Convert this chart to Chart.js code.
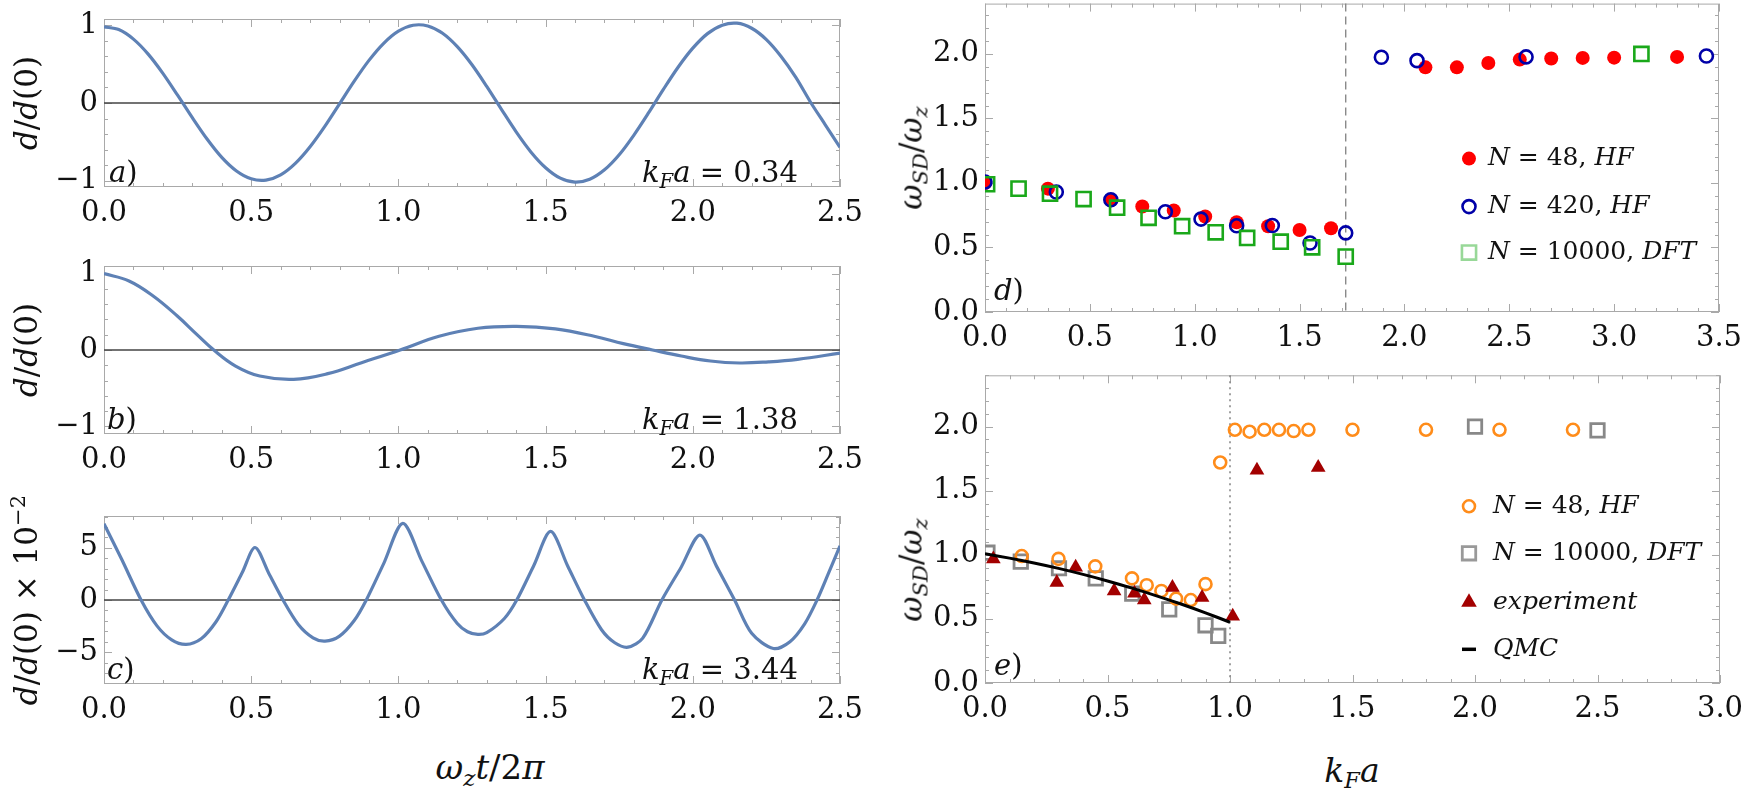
<!DOCTYPE html>
<html>
<head>
<meta charset="utf-8">
<script src="https://cdn.jsdelivr.net/npm/chart.js@4.4.1/dist/chart.umd.min.js"></script>
<style>
  body { margin: 0; background: #fff; width: 1744px; height: 800px; position: relative; overflow: hidden; font-family: 'DejaVu Serif', 'Liberation Serif', serif; color: #111; }
  canvas { position: absolute; }
  .t { position: absolute; white-space: nowrap; font-size: 29px; line-height: 1; }
  .c { transform: translate(-50%, -50%); }
  .rot { transform: translate(-50%, -50%) rotate(-90deg); font-size: 31px; }
  sub { font-size: 0.68em; vertical-align: -0.3em; line-height: 0; }
  sup { font-size: 0.68em; vertical-align: 0.55em; line-height: 0; }
</style>
</head>
<body>
<canvas id="pa"></canvas>
<canvas id="pb"></canvas>
<canvas id="pc"></canvas>
<canvas id="pd"></canvas>
<canvas id="pe"></canvas>

<div class="t rot" style="left:26px;top:103px"><i>d</i>/<i>d</i>(0)</div>
<div class="t rot" style="left:26px;top:350px"><i>d</i>/<i>d</i>(0)</div>
<div class="t rot" style="left:26px;top:600px"><i>d</i>/<i>d</i>(0) × 10<sup>−2</sup></div>
<div class="t rot" style="left:911px;top:158px"><i>ω</i><sub><i>SD</i></sub>/<i>ω</i><sub><i>z</i></sub></div>
<div class="t rot" style="left:911px;top:570px"><i>ω</i><sub><i>SD</i></sub>/<i>ω</i><sub><i>z</i></sub></div>
<div class="t c" style="left:490px;top:767px;font-size:34px"><i>ω</i><sub><i>z</i></sub><i>t</i>/2<i>π</i></div>
<div class="t c" style="left:1352px;top:770px;font-size:33px"><i>k</i><sub><i>F</i></sub><i>a</i></div>

<div class="t" style="left:109px;top:158px"><i>a</i>)</div>
<div class="t" style="left:107px;top:405px"><i>b</i>)</div>
<div class="t" style="left:107px;top:655px"><i>c</i>)</div>
<div class="t" style="left:994px;top:276px"><i>d</i>)</div>
<div class="t" style="left:994px;top:651px"><i>e</i>)</div>
<div class="t" style="left:642px;top:158px"><i>k</i><sub><i>F</i></sub><i>a</i> = 0.34</div>
<div class="t" style="left:642px;top:405px"><i>k</i><sub><i>F</i></sub><i>a</i> = 1.38</div>
<div class="t" style="left:642px;top:655px"><i>k</i><sub><i>F</i></sub><i>a</i> = 3.44</div>

<script>
// ---- panel a: kFa = 0.34 ----
const timeA = [0, 0.05, 0.1, 0.15, 0.2, 0.25, 0.3, 0.35, 0.4, 0.45, 0.5, 0.55, 0.6, 0.65, 0.7, 0.75, 0.8, 0.85, 0.9, 0.95,
               1.0, 1.05, 1.1, 1.15, 1.2, 1.25, 1.3, 1.35, 1.4, 1.45, 1.5, 1.55, 1.6, 1.65, 1.7, 1.75, 1.8, 1.85, 1.9, 1.95,
               2.0, 2.05, 2.1, 2.15, 2.2, 2.25, 2.3, 2.35, 2.4, 2.45, 2.5];
const dipoleA = [0.98, 0.944, 0.821, 0.628, 0.381, 0.1, -0.189, -0.463, -0.699, -0.874, -0.975, -0.992, -0.924, -0.776, -0.562, -0.3, -0.01, 0.281, 0.548, 0.768,
                 0.924, 1.0, 0.99, 0.896, 0.724, 0.491, 0.213, -0.082, -0.371, -0.629, -0.832, -0.966, -1.017, -0.98, -0.859, -0.665, -0.412, -0.125, 0.175, 0.46,
                 0.705, 0.892, 1.001, 1.026, 0.961, 0.815, 0.598, 0.329, 0.01, -0.28, -0.57];

// ---- panel b: kFa = 1.38 ----
const timeB = [0, 0.085, 0.167, 0.249, 0.315, 0.373, 0.447, 0.529, 0.644, 0.76, 0.875, 1.006, 1.138, 1.27, 1.402, 1.533,
               1.665, 1.764, 1.863, 1.961, 2.06, 2.159, 2.257, 2.356, 2.5];
const dipoleB = [1.0, 0.904, 0.707, 0.445, 0.205, 0, -0.21, -0.341, -0.384, -0.31, -0.166, 0, 0.18, 0.285, 0.31, 0.276,
                 0.18, 0.083, 0, -0.079, -0.144, -0.17, -0.155, -0.122, -0.04];

// ---- panel c: kFa = 3.44 (units of 10^-2) ----
const timeC = [0, 0.06, 0.126, 0.18, 0.23, 0.279, 0.33, 0.38, 0.422, 0.47, 0.513,
               0.56, 0.608, 0.66, 0.71, 0.751, 0.8, 0.85, 0.891, 0.95, 1.015,
               1.08, 1.146, 1.2, 1.235, 1.27, 1.3, 1.36, 1.402, 1.46, 1.517,
               1.575, 1.632, 1.69, 1.735, 1.78, 1.83, 1.895, 1.96, 2.024,
               2.08, 2.142, 2.2, 2.274, 2.33, 2.38, 2.422, 2.46, 2.5];
const dipoleC = [7.3, 3.9, 0, -2.48, -3.82, -4.26, -3.72, -2.11, 0, 2.65, 5.03,
                 2.54, 0, -2.34, -3.62, -3.94, -3.46, -1.97, 0, 3.49, 7.34,
                 3.7, 0, -2.25, -3.04, -3.3, -3.13, -1.77, 0, 3.31, 6.57,
                 3.26, 0, -2.85, -4.1, -4.52, -3.66, 0, 3.12, 6.22,
                 3.27, 0, -3.19, -4.65, -3.99, -2.28, 0, 2.5, 5.19];

const timeTicks = [0, 0.5, 1.0, 1.5, 2.0, 2.5];
const dipoleTicks = [-1, 0, 1];
const dipoleTicksC = [-5, 0, 5];

// ---- panel d ----
const kfaHF48d = [0, 0.3, 0.6, 0.75, 0.9, 1.05, 1.2, 1.35, 1.5, 1.65, 2.1, 2.25, 2.4, 2.55, 2.7, 2.85, 3.0, 3.3];
const omegaHF48d = [1.0, 0.956, 0.865, 0.818, 0.787, 0.74, 0.696, 0.665, 0.636, 0.649, 1.896, 1.896, 1.93, 1.956, 1.964, 1.969, 1.971, 1.977];
const kfaHF420d = [0, 0.34, 0.6, 0.86, 1.03, 1.2, 1.37, 1.55, 1.72, 1.89, 2.06, 2.58, 3.44];
const omegaHF420d = [1.008, 0.93, 0.87, 0.777, 0.72, 0.668, 0.67, 0.535, 0.613, 1.974, 1.948, 1.977, 1.984];
const kfaDFTd = [0.01, 0.16, 0.31, 0.47, 0.63, 0.78, 0.94, 1.1, 1.25, 1.41, 1.56, 1.72, 3.13];
const omegaDFTd = [0.99, 0.956, 0.917, 0.875, 0.808, 0.73, 0.665, 0.618, 0.574, 0.545, 0.501, 0.429, 2.0];
const kfaTicksD = [0, 0.5, 1.0, 1.5, 2.0, 2.5, 3.0, 3.5];
const transitionD = 1.72;

// ---- panel e ----
const kfaHF48e = [0.15, 0.3, 0.45, 0.6, 0.66, 0.72, 0.78, 0.84, 0.9, 0.96, 1.02, 1.08, 1.14, 1.2, 1.26, 1.32, 1.5, 1.8, 2.1, 2.4];
const omegaHF48e = [0.99, 0.968, 0.91, 0.816, 0.763, 0.718, 0.658, 0.647, 0.771, 1.72, 1.975, 1.96, 1.975, 1.975, 1.965, 1.975, 1.975, 1.975, 1.975, 1.975];
const kfaDFTe = [0.01, 0.146, 0.302, 0.452, 0.601, 0.752, 0.9, 0.952, 2.0, 2.5];
const omegaDFTe = [1.016, 0.947, 0.895, 0.816, 0.697, 0.574, 0.45, 0.368, 2.0, 1.97];
const kfaExp = [0.034, 0.293, 0.37, 0.527, 0.61, 0.65, 0.765, 0.886, 1.011, 1.11, 1.36];
const omegaExp = [0.968, 0.784, 0.903, 0.718, 0.7, 0.647, 0.745, 0.666, 0.521, 1.66, 1.68];
const kfaQMC = [0, 0.1, 0.2, 0.3, 0.4, 0.5, 0.6, 0.7, 0.8, 0.9, 1.0];
const omegaQMC = [1.008, 0.974, 0.936, 0.894, 0.847, 0.796, 0.74, 0.68, 0.616, 0.547, 0.474];
const kfaTicksE = [0, 0.5, 1.0, 1.5, 2.0, 2.5, 3.0];
const omegaTicks = [0, 0.5, 1.0, 1.5, 2.0];
const transitionE = 1.0;

const pts = (xs, ys) => xs.map((x, i) => ({ x: x, y: ys[i] }));

const SERIF = "'DejaVu Serif', 'Liberation Serif', serif";
const FRAME = '#a9a9a9';
const TICK_FONT = { family: SERIF, size: 29 };
const PL = 100, PR = 40, PT = 12, PB = 56;

function framePlugin(cfg) {
  return {
    id: 'frame',
    beforeDatasetsDraw(chart) {
      const { ctx, chartArea: a, scales: { x, y } } = chart;
      ctx.save();
      ctx.strokeStyle = FRAME;
      ctx.lineWidth = 1;
      ctx.strokeRect(a.left + 0.5, a.top + 0.5, a.right - a.left - 1, a.bottom - a.top - 1);
      const marks = (scale, major, minor) => {
        const out = [];
        const k0 = Math.ceil(scale.min / minor - 1e-6), k1 = Math.floor(scale.max / minor + 1e-6);
        for (let k = k0; k <= k1; k++) {
          const v = k * minor;
          const isMajor = Math.abs(v / major - Math.round(v / major)) < 1e-6;
          out.push([Math.round(scale.getPixelForValue(v)) + 0.5, isMajor ? 8 : 4]);
        }
        return out;
      };
      ctx.beginPath();
      for (const [px, len] of marks(x, cfg.xMajor, cfg.xMinor)) {
        ctx.moveTo(px, a.bottom); ctx.lineTo(px, a.bottom - len);
        ctx.moveTo(px, a.top); ctx.lineTo(px, a.top + len);
      }
      for (const [py, len] of marks(y, cfg.yMajor, cfg.yMinor)) {
        ctx.moveTo(a.left, py); ctx.lineTo(a.left + len, py);
        ctx.moveTo(a.right, py); ctx.lineTo(a.right - len, py);
      }
      ctx.stroke();
      if (cfg.zero) {
        const py = y.getPixelForValue(0);
        ctx.strokeStyle = '#444';
        ctx.lineWidth = 1.6;
        ctx.beginPath(); ctx.moveTo(a.left, py); ctx.lineTo(a.right, py); ctx.stroke();
      }
      if (cfg.vline) {
        const px = x.getPixelForValue(cfg.vline.value);
        ctx.strokeStyle = '#8a8a8a';
        ctx.lineWidth = cfg.vline.width;
        ctx.setLineDash(cfg.vline.dash);
        ctx.beginPath(); ctx.moveTo(px, a.top); ctx.lineTo(px, a.bottom); ctx.stroke();
      }
      ctx.restore();
    },
    afterDatasetsDraw(chart) {
      if (!cfg.legend) return;
      const { ctx, chartArea: a } = chart;
      ctx.save();
      for (const it of cfg.legend.items) {
        const mx = a.left + cfg.legend.dx, my = a.top + it.dy;
        if (it.line) {
          ctx.strokeStyle = it.line; ctx.lineWidth = 3.5;
          ctx.beginPath(); ctx.moveTo(mx - 7, my); ctx.lineTo(mx + 7, my); ctx.stroke();
        } else {
          ctx.fillStyle = it.fill; ctx.strokeStyle = it.stroke; ctx.lineWidth = it.bw;
          Chart.helpers.drawPoint(ctx, { pointStyle: it.style, radius: it.r, borderWidth: it.bw, rotation: 0 }, mx, my);
        }
        ctx.fillStyle = '#111';
        ctx.textBaseline = 'middle';
        let cx = a.left + cfg.legend.tx;
        for (const [txt, st] of it.segs) {
          ctx.font = (st === 'i' ? 'italic ' : '') + '25px ' + SERIF;
          ctx.fillText(txt, cx, my);
          cx += ctx.measureText(txt).width;
        }
      }
      ctx.restore();
    }
  };
}

function panel(id, area, xs, ys, datasets, cfg) {
  const cv = document.getElementById(id);
  const W = area.r - area.l + PL + PR, H = area.b - area.t + PT + PB;
  cv.width = W; cv.height = H;
  cv.style.left = (area.l - PL) + 'px';
  cv.style.top = (area.t - PT) + 'px';
  cv.style.width = W + 'px'; cv.style.height = H + 'px';
  return new Chart(cv, {
    type: 'scatter',
    data: { datasets: datasets },
    options: {
      responsive: false,
      animation: false,
      events: [],
      layout: { padding: { left: 0, top: PT, right: PR, bottom: 0 } },
      plugins: { legend: { display: false }, tooltip: { enabled: false } },
      scales: {
        x: {
          type: 'linear', min: xs.min, max: xs.max,
          grid: { display: false, drawTicks: false }, border: { display: false },
          ticks: { font: TICK_FONT, color: '#111', padding: 9, maxRotation: 0, autoSkip: false, callback: xs.fmt },
          afterBuildTicks: s => { s.ticks = xs.ticks.map(v => ({ value: v })); },
          afterFit: s => { s.height = PB; s.paddingLeft = 0; s.paddingRight = 0; }
        },
        y: {
          type: 'linear', min: ys.min, max: ys.max,
          grid: { display: false, drawTicks: false }, border: { display: false },
          ticks: { font: TICK_FONT, color: '#111', padding: 6, autoSkip: false, callback: ys.fmt },
          afterBuildTicks: s => { s.ticks = ys.ticks.map(v => ({ value: v })); },
          afterFit: s => { s.width = PL; s.paddingTop = 0; s.paddingBottom = 0; }
        }
      }
    },
    plugins: [framePlugin(cfg)]
  });
}

const fmt1 = v => v.toFixed(1);
const fmtInt = v => (v < 0 ? '\u2212' + Math.abs(v) : String(v));
const curve = (xs, ys, tension) => ({
  data: pts(xs, ys), showLine: true, borderColor: '#5e81b5', borderWidth: 3.2,
  pointRadius: 0, tension: tension
});
const timeAxis = { min: 0, max: 2.5, ticks: timeTicks, fmt: fmt1 };

panel('pa', { l: 104, r: 840, t: 19, b: 187 }, timeAxis,
  { min: -1.08, max: 1.08, ticks: dipoleTicks, fmt: fmtInt },
  [curve(timeA, dipoleA, 0.3)],
  { xMajor: 0.5, xMinor: 0.1, yMajor: 1, yMinor: 0.2, zero: true });

panel('pb', { l: 104, r: 840, t: 266, b: 434 }, timeAxis,
  { min: -1.1, max: 1.1, ticks: dipoleTicks, fmt: fmtInt },
  [curve(timeB, dipoleB, 0.4)],
  { xMajor: 0.5, xMinor: 0.1, yMajor: 1, yMinor: 0.2, zero: true });

panel('pc', { l: 104, r: 840, t: 516, b: 684 }, timeAxis,
  { min: -8.05, max: 8.05, ticks: dipoleTicksC, fmt: fmtInt },
  [curve(timeC, dipoleC, 0.3)],
  { xMajor: 0.5, xMinor: 0.1, yMajor: 5, yMinor: 1, zero: true });

const N48 = [['N', 'i'], [' = 48, ', 'r'], ['HF', 'i']];
const N420 = [['N', 'i'], [' = 420, ', 'r'], ['HF', 'i']];
const N10k = [['N', 'i'], [' = 10000, ', 'r'], ['DFT', 'i']];

panel('pd', { l: 985, r: 1719, t: 3, b: 312 },
  { min: 0, max: 3.5, ticks: kfaTicksD, fmt: fmt1 },
  { min: 0, max: 2.39, ticks: omegaTicks, fmt: fmt1 },
  [
    { data: pts(kfaDFTd, omegaDFTd), pointStyle: 'rect', pointRadius: 10, borderWidth: 2.6, borderColor: '#1aa81a', backgroundColor: 'rgba(0,0,0,0)' },
    { data: pts(kfaHF420d, omegaHF420d), pointStyle: 'circle', pointRadius: 6.5, borderWidth: 2.6, borderColor: '#0000a8', backgroundColor: 'rgba(0,0,0,0)' },
    { data: pts(kfaHF48d, omegaHF48d), pointStyle: 'circle', pointRadius: 7, borderWidth: 0, backgroundColor: '#ff0000' }
  ],
  { xMajor: 0.5, xMinor: 0.1, yMajor: 0.5, yMinor: 0.1,
    vline: { value: transitionD, dash: [8, 5], width: 1.4 },
    legend: { dx: 484, tx: 503, items: [
      { dy: 155, style: 'circle', r: 7, bw: 0, fill: '#ff0000', stroke: '#ff0000', segs: N48 },
      { dy: 203, style: 'circle', r: 6.5, bw: 2.6, fill: 'rgba(0,0,0,0)', stroke: '#0000a8', segs: N420 },
      { dy: 249, style: 'rect', r: 10, bw: 2.6, fill: 'rgba(0,0,0,0)', stroke: 'rgba(26,168,26,0.45)', segs: N10k }
    ] } });

panel('pe', { l: 985, r: 1720, t: 375, b: 683 },
  { min: 0, max: 3.0, ticks: kfaTicksE, fmt: fmt1 },
  { min: 0, max: 2.4, ticks: omegaTicks, fmt: fmt1 },
  [
    { data: pts(kfaQMC, omegaQMC), showLine: true, borderColor: '#000', borderWidth: 3, pointRadius: 0, tension: 0.3 },
    { data: pts(kfaExp, omegaExp), pointStyle: 'triangle', pointRadius: 8.5, borderWidth: 0, backgroundColor: '#a30000' },
    { data: pts(kfaHF48e, omegaHF48e), pointStyle: 'circle', pointRadius: 6, borderWidth: 2.6, borderColor: '#ff8c1a', backgroundColor: 'rgba(0,0,0,0)' },
    { data: pts(kfaDFTe, omegaDFTe), pointStyle: 'rect', pointRadius: 9.5, borderWidth: 2.8, borderColor: '#888888', backgroundColor: 'rgba(0,0,0,0)' }
  ],
  { xMajor: 0.5, xMinor: 0.1, yMajor: 0.5, yMinor: 0.1,
    vline: { value: transitionE, dash: [2, 4], width: 1.6 },
    legend: { dx: 484, tx: 508, items: [
      { dy: 131, style: 'circle', r: 6, bw: 2.6, fill: 'rgba(0,0,0,0)', stroke: '#ff8c1a', segs: N48 },
      { dy: 178, style: 'rect', r: 9.5, bw: 2.8, fill: 'rgba(0,0,0,0)', stroke: '#999999', segs: N10k },
      { dy: 227, style: 'triangle', r: 9, bw: 0, fill: '#a30000', stroke: '#a30000', segs: [['experiment', 'i']] },
      { dy: 274, line: '#000', segs: [['QMC', 'i']] }
    ] } });
</script>
</body>
</html>
